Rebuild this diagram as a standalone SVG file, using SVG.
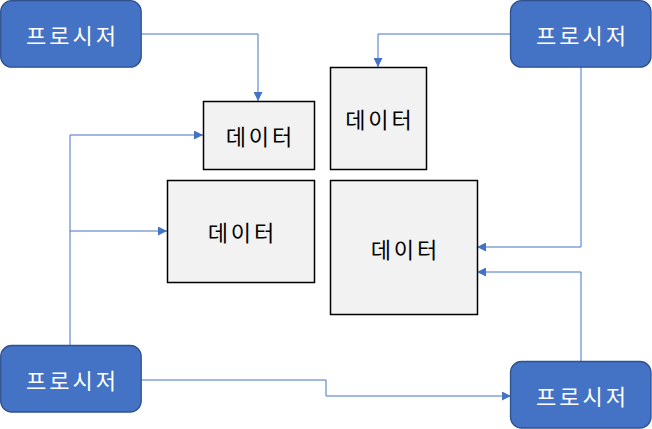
<svg xmlns="http://www.w3.org/2000/svg" width="652" height="429" viewBox="0 0 652 429">
<style>
.proc{fill:#4472C4;stroke:#2F528F;stroke-width:1.3}
.data{fill:#F2F2F2;stroke:#000;stroke-width:1.5}
.pt{fill:#fff;font-family:"Malgun Gothic","Noto Sans CJK KR",sans-serif;font-size:22px;letter-spacing:3px;text-anchor:middle;dominant-baseline:central}
.dt{fill:#000;font-family:"Malgun Gothic","Noto Sans CJK KR",sans-serif;font-size:22px;letter-spacing:3px;text-anchor:middle;dominant-baseline:central}
.c{fill:none;stroke:#4472C4;stroke-width:1}
</style>
<defs>
<marker id="a" viewBox="0 0 10 10" refX="10" refY="5" markerWidth="9" markerHeight="9" markerUnits="userSpaceOnUse" orient="auto">
<path d="M0,0 L10,5 L0,10 z" fill="#4472C4"/>
</marker>
</defs>
<g id="connectors">
<path class="c" d="M141,34 H258 V101" marker-end="url(#a)"/>
<path class="c" d="M510,34 H378 V67" marker-end="url(#a)"/>
<path class="c" d="M70,345 V135 H203" marker-end="url(#a)"/>
<path class="c" d="M70,231 H167" marker-end="url(#a)"/>
<path class="c" d="M581,67 V247 H477" marker-end="url(#a)"/>
<path class="c" d="M581,361 V272 H477" marker-end="url(#a)"/>
<path class="c" d="M141,380 H326 V396 H511" marker-end="url(#a)"/>
</g>
<g id="proc-tl"><rect class="proc" x="0.7" y="0.7" width="140.5" height="66.5" rx="11"/><text class="pt" x="72.5" y="34">프로시저</text></g>
<g id="proc-tr"><rect class="proc" x="510.5" y="0.7" width="140.5" height="66.5" rx="11"/><text class="pt" x="582.5" y="34">프로시저</text></g>
<g id="proc-bl"><rect class="proc" x="0.7" y="345.5" width="140.5" height="66.5" rx="11"/><text class="pt" x="72.5" y="379">프로시저</text></g>
<g id="proc-br"><rect class="proc" x="510.5" y="361.5" width="140.5" height="66.5" rx="11"/><text class="pt" x="582.5" y="395">프로시저</text></g>
<g id="data-a"><rect class="data" x="203.5" y="101.5" width="111" height="68"/><text class="dt" x="260.5" y="135">데이터</text></g>
<g id="data-b"><rect class="data" x="330.5" y="67.5" width="96" height="102"/><text class="dt" x="380" y="118">데이터</text></g>
<g id="data-c"><rect class="data" x="167.5" y="180.5" width="147" height="102"/><text class="dt" x="242.5" y="231">데이터</text></g>
<g id="data-d"><rect class="data" x="330.5" y="180.5" width="147" height="134"/><text class="dt" x="405.5" y="248">데이터</text></g>
</svg>
